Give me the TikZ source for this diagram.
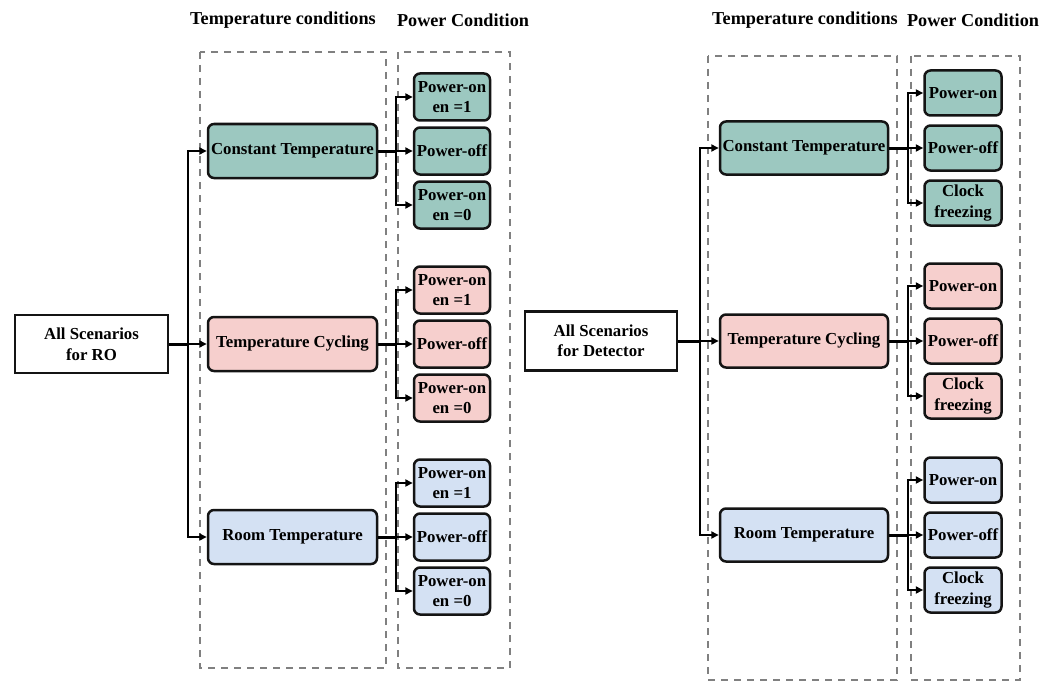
\documentclass[tikz,border=0pt]{standalone}
\usepackage{fontspec}
\setmainfont{Liberation Serif}
\usetikzlibrary{arrows.meta}
\definecolor{tealA}{HTML}{9CC8C0}
\definecolor{pinkA}{HTML}{F6CFCD}
\definecolor{blueA}{HTML}{D4E1F3}
\definecolor{dgray}{HTML}{808080}
\begin{document}
\begin{tikzpicture}[x=1pt,y=-1pt,
  base/.style={draw=black!92, line width=2.5pt, font=\fontsize{16.8}{20.5}\selectfont\bfseries, align=center, inner sep=0.5pt},
  tnode/.style={base, rounded corners=6pt, minimum width=169pt, minimum height=54pt},
  pnode/.style={base, rounded corners=6pt, minimum width=76pt, minimum height=47pt},
  rnode/.style={base, minimum width=153pt, minimum height=58pt},
  head/.style={font=\fontsize{18.2}{20}\selectfont\bfseries, inner sep=0pt},
  grp/.style={draw=dgray, line width=2pt, dash pattern=on 7pt off 6pt},
  stem/.style={line width=3pt},
  arr/.style={line width=2pt, -{Triangle[length=7.5pt,width=7pt]}}
]
\useasboundingbox (0,0) rectangle (1051,682);

% ---------- left diagram ----------
\node[head] (hTL) at (283,20) {Temperature conditions};
\node[head] (hPL) at (463,20) {Power Condition};
\draw[grp] (200,52) rectangle (386,668);
\draw[grp] (398,52) rectangle (510,668);

\node[rnode, fill=white] (rootL) at (91.5,344) {All Scenarios\\for RO};
\node[tnode, fill=tealA] (ctL) at (292.5,151) {Constant Temperature};
\node[tnode, fill=pinkA] (tcL) at (292.5,344) {Temperature Cycling};
\node[tnode, fill=blueA] (rtL) at (292.5,537) {Room Temperature};

\coordinate (jL) at (188,344);
\draw[stem] (rootL.east) -- (jL);
\draw[arr] (jL) |- (ctL.west);
\draw[arr] (jL) -- (tcL.west);
\draw[arr] (jL) |- (rtL.west);

\foreach \t/\y/\c in {ctL/151/tealA, tcL/344/pinkA, rtL/537/blueA}{
  \node[pnode, fill=\c] (\t a) at (452,\y-54) {Power-on\\en =1};
  \node[pnode, fill=\c] (\t b) at (452,\y) {Power-off};
  \node[pnode, fill=\c] (\t c) at (452,\y+54) {Power-on\\en =0};
  \coordinate (\t j) at (396,\y);
  \draw[stem] (\t.east) -- (\t j);
  \draw[arr] (\t j) |- (\t a.west);
  \draw[arr] (\t j) -- (\t b.west);
  \draw[arr] (\t j) |- (\t c.west);
}

% ---------- right diagram ----------
\node[head] (hTR) at (805,20) {Temperature conditions};
\node[head] (hPR) at (973,20) {Power Condition};
\draw[grp] (708,56) rectangle (897,680);
\draw[grp] (911,56) rectangle (1020,680);

\node[rnode, fill=white, minimum width=152pt, minimum height=59pt] (rootR) at (601,341) {All Scenarios\\for Detector};
\node[tnode, fill=tealA, minimum width=168pt, minimum height=53pt] (ctR) at (804,148) {Constant Temperature};
\node[tnode, fill=pinkA, minimum width=168pt, minimum height=53pt] (tcR) at (804,341) {Temperature Cycling};
\node[tnode, fill=blueA, minimum width=168pt, minimum height=53pt] (rtR) at (804,535) {Room Temperature};

\coordinate (jR) at (700,341);
\draw[stem] (rootR.east) -- (jR);
\draw[arr] (jR) |- (ctR.west);
\draw[arr] (jR) -- (tcR.west);
\draw[arr] (jR) |- (rtR.west);

\foreach \t/\y/\c in {ctR/148/tealA, tcR/341/pinkA, rtR/535/blueA}{
  \node[pnode, fill=\c, minimum height=45pt, minimum width=77pt] (\t a) at (963,\y-55) {Power-on};
  \node[pnode, fill=\c, minimum height=45pt, minimum width=77pt] (\t b) at (963,\y) {Power-off};
  \node[pnode, fill=\c, minimum height=45pt, minimum width=77pt] (\t c) at (963,\y+55) {Clock\\freezing};
  \coordinate (\t j) at (908,\y);
  \draw[stem] (\t.east) -- (\t j);
  \draw[arr] (\t j) |- (\t a.west);
  \draw[arr] (\t j) -- (\t b.west);
  \draw[arr] (\t j) |- (\t c.west);
}
\end{tikzpicture}
\end{document}
